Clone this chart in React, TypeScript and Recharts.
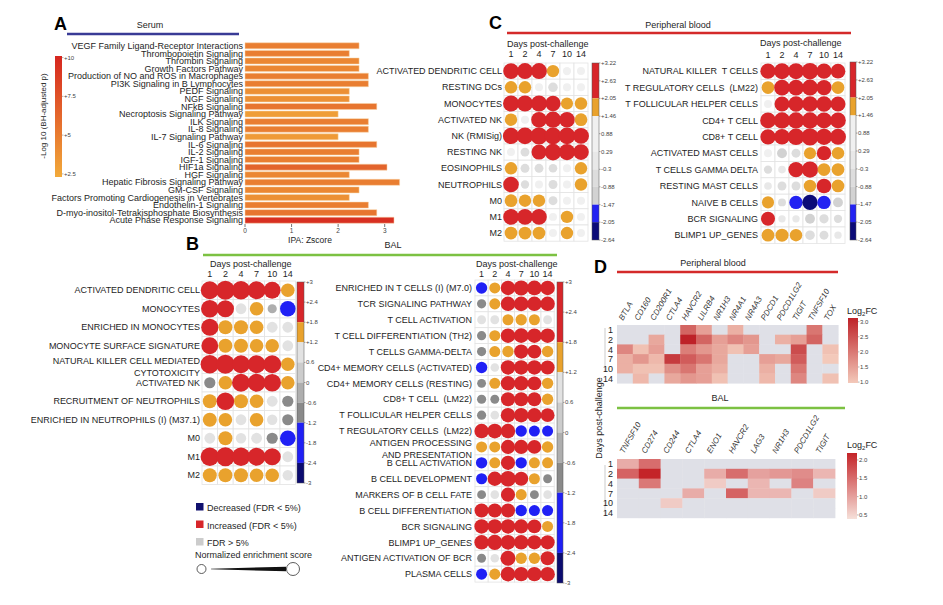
import React from 'react';
import { BarChart, Bar, XAxis, YAxis, Cell, ScatterChart, Scatter } from 'recharts';

const FONT = '"Liberation Sans", Arial, Helvetica, sans-serif';
const INK = '#1e1e1e';

// ---------- A: serum IPA pathways ----------
const serumPathways = [
  'VEGF Family Ligand-Receptor Interactions',
  'Thrombopoietin Signaling',
  'Thrombin Signaling',
  'Growth Factors Pathway',
  'Production of NO and ROS in Macrophages',
  'PI3K Signaling in B Lymphocytes',
  'PEDF Signaling',
  'NGF Signaling',
  'NFkB Signaling',
  'Necroptosis Signaling Pathway',
  'ILK Signaling',
  'IL-8 Signaling',
  'IL-7 Signaling Pathway',
  'IL-6 Signaling',
  'IL-2 Signaling',
  'IGF-1 Signaling',
  'HIF1a Signaling',
  'HGF Signaling',
  'Hepatic Fibrosis Signaling Pathway',
  'GM-CSF Signaling',
  'Factors Promoting Cardiogenesis in Vertebrates',
  'Endothelin-1 Signaling',
  'D-myo-inositol-Tetrakisphosphate Biosynthesis',
  'Acute Phase Response Signaling',
];
const serumZscore = [2.45, 2.24, 2.45, 2.45, 2.65, 2.65, 2.24, 2.24, 2.83, 2.0, 2.65, 2.65, 2.0, 2.83, 2.45, 2.45, 3.05, 2.24, 3.32, 2.45, 2.24, 2.65, 2.83, 3.2];
const serumLogP = [5, 5, 4.5, 4.5, 5, 5, 4, 4, 5.5, 3.2, 5, 5, 3.4, 5.5, 5, 5, 6.5, 4.5, 5, 4.5, 4, 5, 5.5, 9.5];
const zTicks = [0, 1, 2, 3];
const pTicks = [10, 7.5, 5, 2.5];

// ---------- dot matrices ----------
const DAYS = ['1', '2', '4', '7', '10', '14'];

// C left: peripheral blood, innate
const pbInnateRows = ['ACTIVATED DENDRITIC CELL', 'RESTING DCs', 'MONOCYTES', 'ACTIVATED NK', 'NK (RMISig)', 'RESTING NK', 'EOSINOPHILS', 'NEUTROPHILS', 'M0', 'M1', 'M2'];
const pbInnateNES = [
  [2.7, 2.8, 2.8, 1.7, 0.4, 0.3],
  [1.7, 1.7, 0.3, -0.8, 0.3, 0.3],
  [2.8, 2.8, 2.8, 2.6, 1.6, 1.7],
  [1.7, 0.3, 2.7, 2.9, 2.7, 1.8],
  [2.9, 3.0, 3.2, 3.1, 3.0, 2.8],
  [0.3, -0.6, 2.5, 3.0, 2.9, 2.7],
  [1.7, -0.6, -0.6, -0.5, 0.3, 1.7],
  [2.7, -0.4, 0.3, -0.6, 0.3, 1.7],
  [1.8, 1.7, 1.7, -0.6, 0.3, 0.3],
  [2.7, 2.7, 2.7, 0.3, 1.7, 0.3],
  [1.8, 1.8, 1.8, 0.3, 1.7, 0.3],
];

// C right: peripheral blood, adaptive
const pbAdaptiveRows = ['NATURAL KILLER  T CELLS', 'T REGULATORY CELLS  (LM22)', 'T FOLLICULAR HELPER CELLS', 'CD4+ T CELL', 'CD8+ T CELL', 'ACTIVATED MAST CELLS', 'T CELLS GAMMA DELTA', 'RESTING MAST CELLS', 'NAIVE B CELLS', 'BCR SIGNALING', 'BLIMP1 UP_GENES'];
const pbAdaptiveNES = [
  [2.6, 2.8, 2.8, 3.0, 2.6, 2.4],
  [1.8, 2.7, 2.7, 2.8, 2.6, 1.8],
  [0.3, 2.5, 2.6, 2.7, 2.6, 2.5],
  [2.7, 2.9, 2.9, 2.9, 2.8, 2.7],
  [2.6, 2.7, 3.0, 3.2, 2.9, 2.8],
  [0.3, -0.9, -0.6, 1.6, 2.3, 1.7],
  [-0.4, 0.2, 2.6, 2.9, 1.8, 1.8],
  [0.2, -0.6, -0.6, 1.7, 2.4, 1.8],
  [1.6, -0.3, -2.0, -2.6, -2.0, -0.9],
  [2.2, 0.1, 0.1, -0.9, -0.7, -0.4],
  [1.8, 1.9, 1.7, -0.8, -0.6, 0.1],
];

// B left: BAL, innate
const balInnateRows = ['ACTIVATED DENDRITIC CELL', 'MONOCYTES', 'ENRICHED IN MONOCYTES', 'MONOCYTE SURFACE SIGNATURE', 'NATURAL KILLER CELL MEDIATED\nCYTOTOXICITY', 'ACTIVATED NK', 'RECRUITMENT OF NEUTROPHILS', 'ENRICHED IN NEUTROPHILS (I) (M37.1)', 'M0', 'M1', 'M2'];
const balInnateNES = [
  [2.6, 2.8, 2.7, 2.6, 2.3, 1.5],
  [2.5, 2.4, 0.8, 1.5, -0.4, -2.0],
  [2.4, 1.6, 1.6, 1.5, 0.8, 0.8],
  [2.3, 1.6, 1.6, 1.5, 1.5, 0.8],
  [2.7, 2.8, 2.6, 2.6, 2.6, 1.5],
  [-0.9, 1.5, 2.6, 2.6, 2.5, 1.5],
  [1.6, 2.5, 1.6, 1.5, 0.8, -0.9],
  [1.6, 1.5, 0.8, 1.5, 0.7, -0.9],
  [0.8, 1.6, 0.7, 0.8, -0.9, -2.0],
  [2.7, 2.8, 2.7, 2.6, 2.4, 0.8],
  [1.6, 1.6, 1.6, 1.5, 1.5, 0.7],
];

// B right: BAL, adaptive
const balAdaptiveRows = ['ENRICHED IN T CELLS (I) (M7.0)', 'TCR SIGNALING PATHWAY', 'T CELL ACTIVATION', 'T CELL DIFFERENTIATION (TH2)', 'T CELLS GAMMA-DELTA', 'CD4+ MEMORY CELLS (ACTIVATED)', 'CD4+ MEMORY CELLS (RESTING)', 'CD8+ T CELL  (LM22)', 'T FOLLICULAR HELPER CELLS', 'T REGULATORY CELLS  (LM22)', 'ANTIGEN PROCESSING\nAND PRESENTATION', 'B CELL ACTIVATION', 'B CELL DEVELOPMENT', 'MARKERS OF B CELL FATE', 'B CELL DIFFERENTIATION', 'BCR SIGNALING', 'BLIMP1 UP_GENES', 'ANTIGEN ACTIVATION OF BCR', 'PLASMA CELLS'];
const balAdaptiveNES = [
  [-1.6, 1.5, 2.6, 2.8, 2.7, 2.6],
  [-0.9, 1.5, 2.6, 2.7, 2.6, 2.6],
  [0.8, 0.8, 1.5, 1.6, 1.5, 0.8],
  [-0.9, 1.5, 2.6, 2.7, 2.6, 2.6],
  [-0.9, 1.5, 1.6, 2.5, 2.4, 1.6],
  [-1.6, 0.7, 2.6, 2.6, 2.6, 2.5],
  [-0.8, 1.5, 2.6, 2.6, 2.4, 1.6],
  [-0.9, -0.8, 2.5, 2.5, 2.4, 1.6],
  [-0.9, 0.7, 2.6, 2.6, 2.5, 2.4],
  [2.6, 2.7, 2.6, -1.6, -1.5, -1.5],
  [1.5, 1.5, 2.5, 2.5, 2.4, 1.6],
  [-1.6, 1.5, 2.5, -1.6, 1.5, 1.5],
  [-1.5, 2.6, 3.0, 2.5, 1.5, -0.8],
  [-0.8, 0.7, 2.5, 1.5, -0.8, 0.7],
  [2.5, 2.5, 2.5, -1.6, -1.5, -1.5],
  [2.6, 2.6, 2.6, 2.5, 2.4, 1.5],
  [2.6, 2.8, 2.7, 2.6, 2.5, 2.5],
  [-0.8, 0.7, 2.8, 1.6, 1.6, 2.5],
  [-1.5, 1.5, 2.7, 2.6, 2.6, 2.6],
];

// colour scales of normalized enrichment score
const pbScaleTicks = [3.22, 2.63, 2.05, 1.46, 0.88, 0.29, -0.3, -0.88, -1.47, -2.05, -2.64];
const pbScaleBands: [number, number, string][] = [
  [3.22, 2.05, '#d7262a'],
  [2.05, 1.46, '#e9a22d'],
  [1.46, 0.29, '#f0f0f0'],
  [0.29, -0.3, '#e8e8e8'],
  [-0.3, -0.88, '#dddddd'],
  [-0.88, -1.47, '#d2d2d2'],
  [-1.47, -2.05, '#2323f2'],
  [-2.05, -2.64, '#0b0b78'],
];
const balScaleTicks = [3, 2.4, 1.8, 1.2, 0.6, 0, -0.6, -1.2, -1.8, -2.4, -3];
const balScaleBands: [number, number, string][] = [
  [3, 1.8, '#d7262a'],
  [1.8, 1.2, '#e9a22d'],
  [1.2, 0.6, '#e2e2e2'],
  [0.6, 0, '#cccccc'],
  [0, -0.6, '#aeaeae'],
  [-0.6, -1.2, '#8a8a8a'],
  [-1.2, -2.4, '#2020f5'],
  [-2.4, -3, '#0b0b70'],
];

// ---------- D: checkpoint heatmaps ----------
const pbGenes = ['BTLA', 'CD160', 'CD200R1', 'CTLA4', 'HAVCR2', 'LILRB4', 'NR1H3', 'NR4A1', 'NR4A3', 'PDCD1', 'PDCD1LG2', 'TIGIT', 'TNFSF10', 'TOX'];
const pbLogFC = [
  [null, null, null, null, 2.2, 1.5, null, 1.3, null, null, null, null, 2.0, null],
  [null, null, 1.4, null, 3.0, 2.2, 1.5, 1.8, 1.6, null, 1.3, 1.5, 2.2, null],
  [1.8, 1.1, 1.5, null, 1.9, 1.6, 1.4, 1.1, 1.5, null, null, 2.5, null, 1.1],
  [1.3, 1.6, 1.2, 2.7, 2.3, 2.0, 1.4, null, null, 1.5, 1.4, 2.3, null, 1.0],
  [1.3, 1.1, 1.1, 1.7, 2.0, 1.5, 1.3, null, null, 1.3, null, 2.0, null, null],
  [null, 1.2, null, 1.4, 1.6, 1.5, 1.1, null, null, 1.2, null, 1.8, null, 1.1],
];
const balGenes = ['TNFSF10', 'CD274', 'CD244', 'CTLA4', 'ENO1', 'HAVCR2', 'LAG3', 'NR1H3', 'PDCD1LG2', 'TIGIT'];
const balLogFC = [
  [0.9, 1.5, null, null, null, null, null, null, null, null],
  [1.6, 2.2, null, null, 0.9, 1.5, 1.0, 1.1, 1.2, 0.8],
  [null, 1.4, null, null, 0.6, null, 0.8, null, 1.3, null],
  [null, null, null, 0.9, null, 1.6, 0.8, 0.8, null, 0.6],
  [null, null, 0.6, null, null, null, null, null, null, null],
  [null, null, null, null, null, null, null, null, null, null],
];
const pbFCTicks = [3.0, 2.5, 2.0, 1.5, 1.0];
const balFCTicks = [2.0, 1.5, 1.0, 0.5];

// ---------- helpers ----------
const clamp = (t: number) => Math.max(0, Math.min(1, t));
const mix = (a: number[], b: number[], t: number) =>
  `rgb(${a.map((v, i) => Math.round(v + (b[i] - v) * clamp(t))).join(',')})`;
const P_LO = [242, 170, 58];
const P_HI = [214, 38, 31];
const pColor = (p: number) => mix(P_LO, P_HI, (p - 2.5) / 7.5);
const PB_LO = [243, 201, 186];
const PB_HI = [190, 34, 40];
const BAL_LO = [246, 224, 217];
const BAL_HI = [196, 36, 40];
const NA_FILL = '#dfe0e7';
const bandColor = (bands: [number, number, string][], v: number) => {
  const b = bands.find((s) => v <= s[0] && v > s[1]);
  return b ? b[2] : v > 0 ? bands[0][2] : bands[bands.length - 1][2];
};
const fmtTick = (v: number) => (v > 1 ? `+${v}` : `${v}`);

const RowLabel = ({ x, y, text, size = 9 }: any) => {
  const lines = String(text).split('\n');
  return (
    <text x={x} y={y} textAnchor="end" fontSize={size} fill={INK} fontFamily={FONT} style={{ whiteSpace: 'pre' }}>
      {lines.map((l, i) => (
        <tspan key={i} x={x} dy={i === 0 ? (lines.length > 1 ? -0.5 : 3.2) : 12}>{l}</tspan>
      ))}
    </text>
  );
};

// ---------- components ----------
const SerumBars = () => {
  const data = serumPathways.map((name, i) => ({ name, z: serumZscore[i], p: serumLogP[i] }));
  return (
    <div style={{ position: 'absolute', left: 35, top: 42 }}>
      <BarChart width={372} height={198} data={data} layout="vertical" barCategoryGap={0.8}
        margin={{ top: 0, right: 6, bottom: 2, left: 0 }}>
        <XAxis type="number" dataKey="z" domain={[0, 3.35]} ticks={zTicks} interval={0} height={14}
          axisLine={false} tickLine={{ stroke: '#777' }} tickSize={3} tickMargin={1}
          tick={{ fontSize: 6.5, fill: '#444', fontFamily: FONT }} />
        <YAxis type="category" dataKey="name" width={210} interval={0} axisLine={false} tickLine={false}
          tickSize={2} tickMargin={0}
          tick={(p: any) => <RowLabel x={p.x} y={p.y} text={p.payload.value} />} />
        <Bar dataKey="z" isAnimationActive={false} stroke="#f8d7a8" strokeWidth={0.5}>
          {data.map((d, i) => <Cell key={i} fill={pColor(d.p)} />)}
        </Bar>
      </BarChart>
    </div>
  );
};

const DotMatrix = ({ gridX, gridY, colW, rowH, labelW, labelGap, dayGap, rows, nes, bands, r0, r1 }: any) => {
  const headerH = 20;
  const pad = 12;
  const data = nes.flatMap((row: number[], i: number) => row.map((v, j) => ({ x: j, y: i, v })));
  const w = labelW + DAYS.length * colW + pad;
  const h = headerH + rows.length * rowH + pad;
  return (
    <div style={{ position: 'absolute', left: gridX - labelW, top: gridY - headerH }}>
      <ScatterChart width={w} height={h} margin={{ top: 0, right: pad, bottom: pad, left: 0 }}>
        <XAxis type="number" dataKey="x" orientation="top" domain={[-0.5, DAYS.length - 0.5]}
          ticks={DAYS.map((_, i) => i)} interval={0} height={headerH} axisLine={false} tickLine={false}
          tickSize={0} tickMargin={dayGap}
          tick={(p: any) => (
            <text x={p.x} y={p.y} textAnchor="middle" fontSize={9} fill={INK} fontFamily={FONT}>{DAYS[p.payload.value]}</text>
          )} />
        <YAxis type="number" dataKey="y" domain={[-0.5, rows.length - 0.5]} reversed
          ticks={rows.map((_: string, i: number) => i)} interval={0} width={labelW}
          axisLine={false} tickLine={false} tickSize={0} tickMargin={labelGap}
          tick={(p: any) => <RowLabel x={p.x} y={p.y} text={rows[p.payload.value]} />} />
        <Scatter data={data} isAnimationActive={false}
          shape={(p: any) => (
            <rect x={p.cx - colW / 2} y={p.cy - rowH / 2} width={colW} height={rowH} fill="#fff" stroke="#e3e3e3" strokeWidth={0.8} />
          )} />
        <Scatter data={data} isAnimationActive={false}
          shape={(p: any) => (
            <circle cx={p.cx} cy={p.cy} r={r0 + r1 * Math.abs(p.payload.v)} fill={bandColor(bands, p.payload.v)} />
          )} />
      </ScatterChart>
    </div>
  );
};

const HeatMap = ({ gridX, gridY, colW, rowH, genes, values, lo, hi, vlo, vhi, lx, ly }: any) => {
  const headerH = 48;
  const labelW = 24;
  const data = values.flatMap((row: (number | null)[], i: number) => row.map((v, j) => ({ x: j, y: i, v })));
  const w = labelW + genes.length * colW + 4;
  const h = headerH + DAYS.length * rowH + 4;
  return (
    <div style={{ position: 'absolute', left: gridX - labelW, top: gridY - headerH }}>
      <ScatterChart width={w} height={h} margin={{ top: 0, right: 4, bottom: 4, left: 0 }}>
        <XAxis type="number" dataKey="x" orientation="top" domain={[-0.5, genes.length - 0.5]}
          ticks={genes.map((_: string, i: number) => i)} interval={0} height={headerH}
          axisLine={false} tickLine={false} tickSize={0} tickMargin={0}
          tick={(p: any) => (
            <text transform={`translate(${p.x + lx},${p.y + ly}) rotate(-60)`} textAnchor="start" fontSize={8}
              fontStyle="italic" fill="#333" fontFamily={FONT}>{genes[p.payload.value]}</text>
          )} />
        <YAxis type="number" dataKey="y" domain={[-0.5, DAYS.length - 0.5]} reversed
          ticks={DAYS.map((_, i) => i)} interval={0} width={labelW} axisLine={false} tickLine={false}
          tickSize={0} tickMargin={4}
          tick={(p: any) => (
            <text x={p.x} y={p.y + 3.3} textAnchor="end" fontSize={9} fill={INK} fontFamily={FONT}>{DAYS[p.payload.value]}</text>
          )} />
        <Scatter data={data} isAnimationActive={false}
          shape={(p: any) => (
            <rect x={p.cx - colW / 2} y={p.cy - rowH / 2} width={colW + 0.4} height={rowH + 0.4}
              fill={p.payload.v == null ? NA_FILL : mix(lo, hi, (p.payload.v - vlo) / (vhi - vlo))} />
          )} />
      </ScatterChart>
    </div>
  );
};

const BandBar = ({ x, y, w, h, bands, ticks }: any) => {
  const vmax = bands[0][0];
  const vmin = bands[bands.length - 1][1];
  const yOf = (v: number) => y + ((vmax - v) / (vmax - vmin)) * h;
  return (
    <g>
      {bands.map((b: any, i: number) => (
        <rect key={i} x={x} y={yOf(b[0])} width={w} height={yOf(b[1]) - yOf(b[0])} fill={b[2]} />
      ))}
      <rect x={x} y={y} width={w} height={h} fill="none" stroke="#555" strokeWidth={0.5} />
      {ticks.map((t: number, i: number) => (
        <g key={i}>
          <line x1={x + w} x2={x + w + 1.5} y1={yOf(t)} y2={yOf(t)} stroke="#555" strokeWidth={0.5} />
          <text x={x + w + 2} y={yOf(t) + 2} fontSize={6} fill="#444" fontFamily={FONT}>{fmtTick(t)}</text>
        </g>
      ))}
    </g>
  );
};

const GradBar = ({ id, x, y, w, h, vmax, vmin, ticks, fmt, top, bottom }: any) => {
  const yOf = (v: number) => y + ((vmax - v) / (vmax - vmin)) * h;
  return (
    <g>
      <defs>
        <linearGradient id={id} x1="0" y1="0" x2="0" y2="1">
          <stop offset="0%" stopColor={top} />
          <stop offset="100%" stopColor={bottom} />
        </linearGradient>
      </defs>
      <rect x={x} y={y} width={w} height={h} fill={`url(#${id})`} />
      {ticks.map((t: number, i: number) => (
        <g key={i}>
          <line x1={x + w} x2={x + w + 1.5} y1={yOf(t)} y2={yOf(t)} stroke="#666" strokeWidth={0.5} />
          <text x={x + w + 2} y={yOf(t) + 2} fontSize={6} fill="#444" fontFamily={FONT}>{fmt(t)}</text>
        </g>
      ))}
    </g>
  );
};

const Overlay = () => (
  <svg width={943} height={605} style={{ position: 'absolute', left: 0, top: 0 }} fontFamily={FONT}>
    {/* A */}
    <text x={54} y={30} fontSize={18} fontWeight="bold" fill="#000">A</text>
    <text x={150} y={28} fontSize={9} textAnchor="middle" fill={INK}>Serum</text>
    <line x1={67} x2={239} y1={34} y2={34} stroke="#393b96" strokeWidth={2.5} />
    <GradBar id="pgrad" x={55} y={56} w={7} h={121} vmax={10.1} vmin={2.3} ticks={pTicks}
      fmt={(t: number) => `+${t}`} top={mix(P_LO, P_HI, 1)} bottom={mix(P_LO, P_HI, 0)} />
    <text transform="translate(46,116) rotate(-90)" fontSize={8} textAnchor="middle" fill={INK}>-Log 10 (BH-adjusted p)</text>
    <text x={310} y={243} fontSize={8.5} textAnchor="middle" fill={INK}>IPA: Zscore</text>

    {/* B */}
    <text x={186} y={250} fontSize={18} fontWeight="bold" fill="#000">B</text>
    <text x={393} y={248} fontSize={9} textAnchor="middle" fill={INK}>BAL</text>
    <line x1={203} x2={557} y1={255} y2={255} stroke="#7cc142" strokeWidth={2.5} />
    <text x={210} y={267} fontSize={9} fill={INK}>Days post-challenge</text>
    <text x={476} y={267} fontSize={9} fill={INK}>Days post-challenge</text>
    <BandBar x={297} y={282} w={7} h={201} bands={balScaleBands} ticks={balScaleTicks} />
    <BandBar x={557} y={282} w={6} h={301} bands={balScaleBands} ticks={balScaleTicks} />

    {/* legend */}
    <rect x={196} y={503} width={7.5} height={7.5} fill="#10106e" />
    <text x={207} y={511} fontSize={9} fill={INK}>Decreased (FDR &lt; 5%)</text>
    <rect x={196} y={520.5} width={7.5} height={7.5} fill="#d7262a" />
    <text x={207} y={528.5} fontSize={9} fill={INK}>Increased (FDR &lt; 5%)</text>
    <rect x={196} y={538} width={7.5} height={7.5} fill="#cccccc" />
    <text x={207} y={546} fontSize={9} fill={INK}>FDR &gt; 5%</text>
    <text x={195} y={558} fontSize={9} fill={INK}>Normalized enrichment score</text>
    <circle cx={201.5} cy={569} r={4.5} fill="#fff" stroke="#333" strokeWidth={0.8} />
    <polygon points="211,568.7 211,569.3 286,571.2 286,566.8" fill="#111" />
    <circle cx={293} cy={569} r={6.5} fill="#fff" stroke="#333" strokeWidth={0.8} />

    {/* C */}
    <text x={489} y={29} fontSize={18} fontWeight="bold" fill="#000">C</text>
    <line x1={507} x2={851} y1={33} y2={33} stroke="#d42a2a" strokeWidth={2.5} />
    <text x={678} y={28} fontSize={9} textAnchor="middle" fill={INK}>Peripheral blood</text>
    <text x={507} y={47} fontSize={9} fill={INK}>Days post-challenge</text>
    <text x={760} y={46} fontSize={9} fill={INK}>Days post-challenge</text>
    <BandBar x={592} y={63} w={7} h={177} bands={pbScaleBands} ticks={pbScaleTicks} />
    <BandBar x={850} y={62} w={6} h={178} bands={pbScaleBands} ticks={pbScaleTicks} />

    {/* D */}
    <text x={594} y={273} fontSize={18} fontWeight="bold" fill="#000">D</text>
    <line x1={617} x2={838} y1={272} y2={272} stroke="#d42a2a" strokeWidth={2.5} />
    <text x={713} y={266} fontSize={9} textAnchor="middle" fill={INK}>Peripheral blood</text>
    <text x={720} y={401} fontSize={9} textAnchor="middle" fill={INK}>BAL</text>
    <line x1={617} x2={845} y1={408} y2={408} stroke="#7cc142" strokeWidth={2.5} />
    <text transform="translate(602,418) rotate(-90)" fontSize={9} textAnchor="middle" fill={INK}>Days post-challenge</text>
    <line x1={605} x2={605} y1={328} y2={372} stroke="#aaa" strokeWidth={0.6} />
    <line x1={605} x2={605} y1={465} y2={515} stroke="#aaa" strokeWidth={0.6} />
    <text x={847} y={314} fontSize={9} fill={INK}>Log<tspan fontSize={6} dy={2}>2</tspan><tspan dy={-2}>FC</tspan></text>
    <GradBar id="pbfc" x={848} y={318} w={10} h={65} vmax={3.12} vmin={0.97} ticks={pbFCTicks}
      fmt={(t: number) => t.toFixed(1)} top={mix(PB_LO, PB_HI, 1)} bottom={mix(PB_LO, PB_HI, 0)} />
    <text x={847} y={448} fontSize={9} fill={INK}>Log<tspan fontSize={6} dy={2}>2</tspan><tspan dy={-2}>FC</tspan></text>
    <GradBar id="balfc" x={847} y={453} w={10} h={66} vmax={2.19} vmin={0.39} ticks={balFCTicks}
      fmt={(t: number) => t.toFixed(1)} top={mix(BAL_LO, BAL_HI, 1)} bottom={mix(BAL_LO, BAL_HI, 0)} />
  </svg>
);

const App = () => (
  <div style={{ position: 'absolute', left: 0, top: 0, width: 943, height: 605, background: '#fff', overflow: 'hidden', fontFamily: FONT }}>
    <Overlay />
    <SerumBars />
    <DotMatrix gridX={504} gridY={63} colW={14} rowH={16.2} labelW={135} labelGap={2} dayGap={5.7}
      rows={pbInnateRows} nes={pbInnateNES} bands={pbScaleBands} r0={3.5} r1={1.6} />
    <DotMatrix gridX={761} gridY={62.5} colW={14} rowH={16.4} labelW={145} labelGap={3} dayGap={5.2}
      rows={pbAdaptiveRows} nes={pbAdaptiveNES} bands={pbScaleBands} r0={3.5} r1={1.6} />
    <DotMatrix gridX={202} gridY={280.75} colW={15.6} rowH={18.5} labelW={190} labelGap={2} dayGap={3.5}
      rows={balInnateRows} nes={balInnateNES} bands={balScaleBands} r0={3.8} r1={2} />
    <DotMatrix gridX={475} gridY={280} colW={13.2} rowH={15.9} labelW={175} labelGap={3} dayGap={3}
      rows={balAdaptiveRows} nes={balAdaptiveNES} bands={balScaleBands} r0={3.2} r1={1.55} />
    <HeatMap gridX={617} gridY={325} colW={15.8} rowH={9.7} genes={pbGenes} values={pbLogFC}
      lo={PB_LO} hi={PB_HI} vlo={1.0} vhi={3.0} lx={-2} ly={-4} />
    <HeatMap gridX={617} gridY={459} colW={21.8} rowH={9.8} genes={balGenes} values={balLogFC}
      lo={BAL_LO} hi={BAL_HI} vlo={0.4} vhi={2.2} lx={-4} ly={-5} />
  </div>
);

export default App;
